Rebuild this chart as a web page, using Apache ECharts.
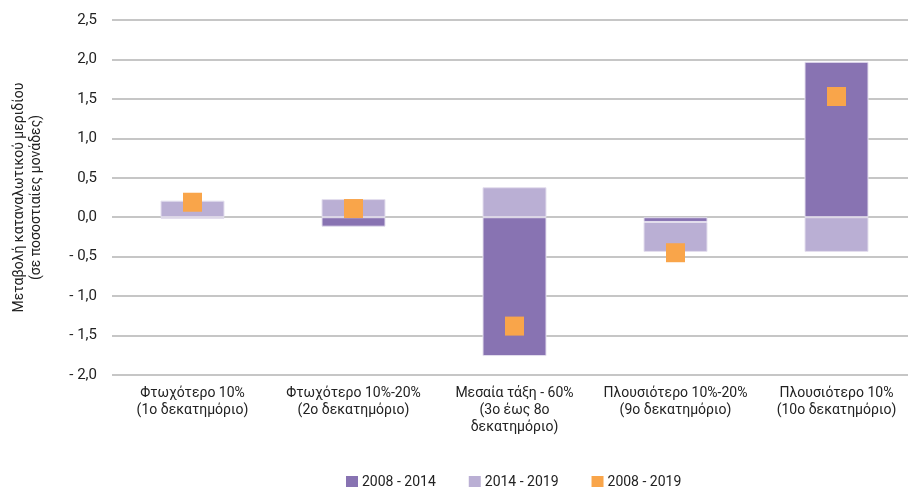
<!DOCTYPE html>
<html>
<head>
<meta charset="utf-8">
<script src="https://cdn.jsdelivr.net/npm/echarts@6/dist/echarts.min.js"></script>
<style>
  html, body { margin: 0; padding: 0; background: #fff; }
  #chart { width: 908px; height: 487px; }
</style>
</head>
<body>
<div id="chart"></div>
<script>
// categories (deciles)
var categories = [
  'Φτωχότερο 10%\n(1ο δεκατημόριο)',
  'Φτωχότερο 10%-20%\n(2ο δεκατημόριο)',
  'Μεσαία τάξη - 60%\n(3ο έως 8ο\nδεκατημόριο)',
  'Πλουσιότερο 10%-20%\n(9ο δεκατημόριο)',
  'Πλουσιότερο 10%\n(10ο δεκατημόριο)'
];
var s2008_2014 = [-0.02, -0.12, -1.76, -0.06, 1.97];
var s2014_2019 = [0.21, 0.23, 0.38, -0.38, -0.44];
var s2008_2019 = [0.19, 0.11, -1.38, -0.45, 1.53];

var FONT = 'Roboto, "Noto Sans", sans-serif';

var myChart = echarts.init(document.getElementById('chart'));
var option = {
  animation: false,
  textStyle: { fontFamily: FONT, color: '#222' },
  grid: { left: 112, top: 20, width: 805, height: 355, outerBoundsMode: 'none', containLabel: false },
  legend: {
    left: 341,
    top: 470,
    itemWidth: 12,
    itemHeight: 12,
    itemGap: 33,
    textStyle: { fontFamily: FONT, fontSize: 14, color: '#222', padding: [0, 0, 0, -1] },
    data: [
      { name: '2008 - 2014', icon: 'rect', itemStyle: { borderWidth: 0 } },
      { name: '2014 - 2019', icon: 'rect', itemStyle: { borderWidth: 0 } },
      { name: '2008 - 2019', icon: 'rect' }
    ]
  },
  xAxis: {
    type: 'category',
    data: categories,
    position: 'bottom',
    axisLine: { show: false },
    axisTick: { show: false },
    axisLabel: {
      interval: 0,
      margin: 10,
      fontSize: 14,
      lineHeight: 17,
      color: '#222',
      fontFamily: FONT
    }
  },
  yAxis: {
    type: 'value',
    min: -2,
    max: 2.5,
    interval: 0.5,
    name: 'Μεταβολή καταναλωτικού μεριδίου\n(σε ποσοστιαίες μονάδες)',
    nameLocation: 'middle',
    nameRotate: 90,
    nameGap: 67,
    nameTextStyle: { fontSize: 14, lineHeight: 17, color: '#222', fontFamily: FONT },
    axisLine: { show: false },
    axisTick: { show: false },
    axisLabel: {
      fontSize: 15,
      margin: 15,
      color: '#222',
      fontFamily: FONT,
      formatter: function (v) {
        var s = Math.abs(v).toFixed(1).replace('.', ',');
        return v < 0 ? '- ' + s : s;
      }
    },
    splitLine: { lineStyle: { color: '#b3b3b3', width: 1.5 } }
  },
  series: [
    {
      name: '2008 - 2014',
      type: 'bar',
      stack: 'total',
      barWidth: 64,
      itemStyle: { color: '#8873B2', borderColor: '#e4dfee', borderWidth: 1 },
      data: s2008_2014
    },
    {
      name: '2014 - 2019',
      type: 'bar',
      stack: 'total',
      barWidth: 64,
      itemStyle: { color: '#BAAFD4', borderColor: '#e4dfee', borderWidth: 1 },
      data: s2014_2019
    },
    {
      name: '2008 - 2019',
      type: 'scatter',
      symbol: 'rect',
      symbolSize: 19,
      z: 5,
      itemStyle: { color: '#F9A54A', opacity: 1 },
      data: s2008_2019
    }
  ]
};
myChart.setOption(option);
</script>
</body>
</html>
